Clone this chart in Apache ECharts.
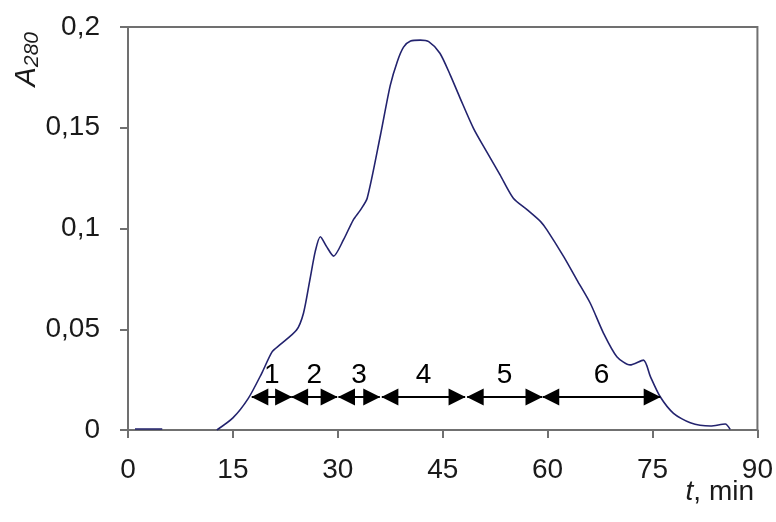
<!DOCTYPE html>
<html>
<head>
<meta charset="utf-8">
<script src="https://cdn.jsdelivr.net/npm/echarts@6/dist/echarts.min.js"></script>
<style>
  html, body { margin: 0; padding: 0; background: #fff; }
  #main { width: 776px; height: 522px; }
</style>
</head>
<body>
<div id="main"></div>
<script>
// elution profile
var timeMin = [1, 4.9, null,
    12.7, 15.0, 17.2, 19.1, 20.6, 21.7, 24.1, 25.1, 26.0, 26.8, 27.5, 28.4, 29.4, 30.8, 32.2,
    33.2, 34.2, 36.1, 37.5, 38.5, 39.4, 40.4, 41.8, 43.0, 44.6, 46.1, 47.5, 49.4, 51.3,
    53.2, 55.1, 57.1, 59.0, 59.9, 62.3, 64.2, 66.1, 68.0, 69.9, 71.8, 73.7, 74.7, 76.1,
    78.0, 80.4, 83.3, 85.4, 86.1];
var absorb = [0.0005, 0.0005, null,
    0, 0.006, 0.0157, 0.028, 0.0388, 0.0422, 0.0496, 0.0581, 0.0744, 0.089, 0.0959, 0.091, 0.0863, 0.0943, 0.1042,
    0.109, 0.115, 0.1464, 0.171, 0.1828, 0.190, 0.193, 0.1935, 0.1927, 0.187, 0.176, 0.1646, 0.1497, 0.138,
    0.1266, 0.115, 0.1092, 0.1034, 0.0993, 0.086, 0.0744, 0.0629, 0.048, 0.0364, 0.0323, 0.0347, 0.0265, 0.0165,
    0.0083, 0.0036, 0.002, 0.003, 0.0003];

// fractions (arrows)
var fracLabels = ['1', '2', '3', '4', '5', '6'];
var fracStart = [17.7, 23.4, 30.1, 36.3, 48.5, 59.3];
var fracEnd = [23.4, 29.9, 36.0, 48.2, 59.2, 76.1];
var fracLevel = 0.0164;

var xTicks = [0, 90, 15];
var yTicks = [0, 0.2, 0.05];

var curve = [];
for (var i = 0; i < timeMin.length; i++) {
    if (timeMin[i] === null) {
        curve.push(['-', '-']);
    } else {
        curve.push([timeMin[i], absorb[i]]);
    }
}

var arrows = [];
for (var j = 0; j < fracLabels.length; j++) {
    arrows.push([
        { name: fracLabels[j], coord: [fracStart[j], fracLevel] },
        { coord: [fracEnd[j], fracLevel] }
    ]);
}

var axisColor = '#707070';
var textColor = '#1a1a1a';
var fontFam = '"Liberation Sans", Arial, sans-serif';

var myChart = echarts.init(document.getElementById('main'), null, { renderer: 'canvas' });

var option = {
    animation: false,
    backgroundColor: '#fff',
    grid: {
        left: 128, right: 18, top: 27, bottom: 92,
        show: true, borderColor: axisColor, borderWidth: 2
    },
    xAxis: {
        type: 'value',
        min: xTicks[0], max: xTicks[1], interval: xTicks[2],
        axisLine: { lineStyle: { color: axisColor, width: 2 } },
        axisTick: { show: true, inside: false, length: 8, lineStyle: { color: axisColor, width: 2 } },
        splitLine: { show: false },
        axisLabel: { color: textColor, fontSize: 28, fontFamily: fontFam, margin: 26 }
    },
    yAxis: {
        type: 'value',
        min: yTicks[0], max: yTicks[1], interval: yTicks[2],
        axisLine: { show: true, lineStyle: { color: axisColor, width: 2 } },
        axisTick: { show: true, inside: false, length: 8, lineStyle: { color: axisColor, width: 2 } },
        splitLine: { show: false },
        axisLabel: {
            color: textColor, fontSize: 28, fontFamily: fontFam, margin: 28,
            formatter: function (v) { return String(+v.toFixed(2)).replace('.', ','); }
        }
    },
    graphic: [
        {
            type: 'text', left: 12, top: 32, rotation: Math.PI / 2,
            style: {
                text: '{a|A}{s|280}',
                rich: {
                    a: { fontSize: 29, fontStyle: 'italic', fontFamily: fontFam, fill: textColor },
                    s: { fontSize: 21, fontStyle: 'italic', fontFamily: fontFam, fill: textColor, padding: [12, 0, 0, 0] }
                }
            }
        },
        {
            type: 'text', right: 22, top: 478,
            style: {
                text: '{i|t}, min',
                font: '28px ' + fontFam,
                fill: textColor,
                rich: {
                    i: { fontSize: 28, fontStyle: 'italic', fontFamily: fontFam, fill: textColor }
                }
            }
        }
    ],
    series: [
        {
            type: 'line',
            data: curve,
            showSymbol: false,
            connectNulls: false,
            smooth: 0.25,
            lineStyle: { color: '#23236e', width: 1.6 },
            silent: true
        },
        {
            type: 'line',
            data: [],
            markLine: {
                silent: true,
                symbol: ['triangle', 'triangle'],
                symbolSize: 17,
                symbolOffset: [[0, 8], [0, 8]],
                lineStyle: { color: '#000', width: 2, type: 'solid' },
                label: {
                    show: true,
                    position: 'insideMiddleTop',
                    distance: 8,
                    formatter: '{b}',
                    color: '#000',
                    fontSize: 28,
                    fontFamily: fontFam
                },
                emphasis: { disabled: true },
                data: arrows
            }
        }
    ]
};

myChart.setOption(option);
window.onresize = myChart.resize;
</script>
</body>
</html>
